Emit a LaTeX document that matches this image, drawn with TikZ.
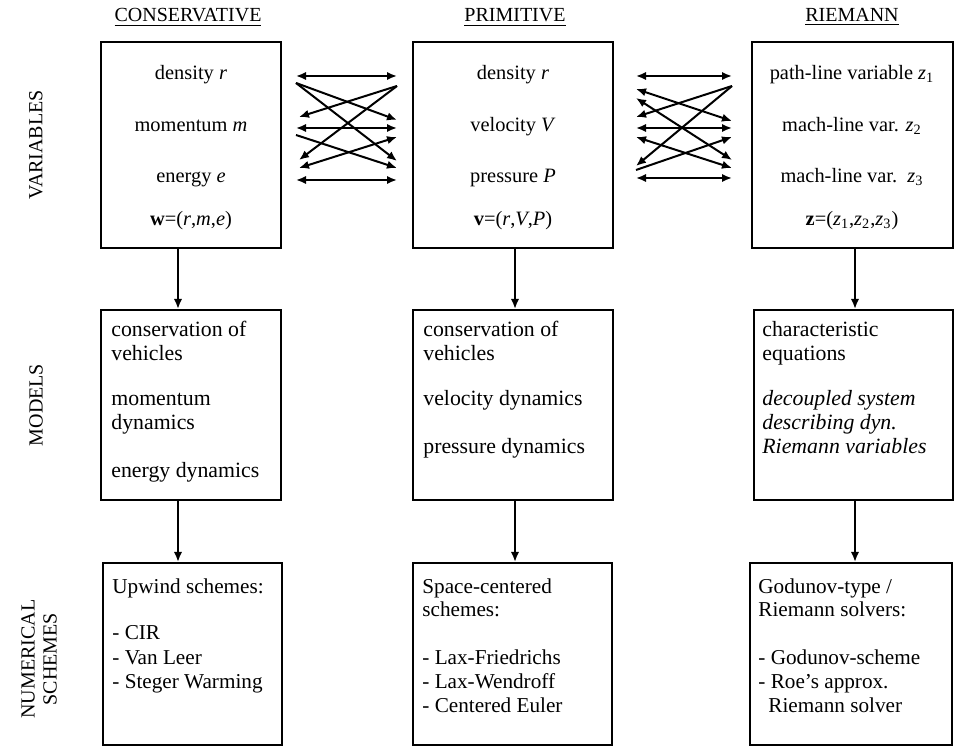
\documentclass[tikz,border=0pt]{standalone}
\usepackage{fontspec}
\setmainfont{Liberation Serif}
\usetikzlibrary{arrows.meta}
\begin{document}
\begin{tikzpicture}[x=0.5pt,y=-0.5pt,
  box/.style={draw,line width=1pt,inner sep=0pt},
  arr/.style={line width=1pt,-{Latex[length=5pt,width=4.2pt]}},
  darr/.style={line width=1pt,{Latex[length=5pt,width=4.2pt]}-{Latex[length=5pt,width=4.2pt]}},
  ctr/.style={anchor=base,inner sep=0pt,font=\fontsize{10.2}{12}\selectfont},
  hdr/.style={anchor=base,inner sep=0pt,font=\fontsize{10}{12}\selectfont},
  lft/.style={anchor=base west,inner sep=0pt,font=\fontsize{10.9}{13}\selectfont},
  sch/.style={anchor=base west,inner sep=0pt,font=\fontsize{10.6}{13}\selectfont},
  side/.style={rotate=90,align=center,inner sep=0pt,font=\fontsize{10}{11}\selectfont}]
\useasboundingbox (0,0) rectangle (959,747);

% headers
\node[hdr] (h1) at (188,22) {\underline{CONSERVATIVE}};
\node[hdr] (h2) at (515,22) {\underline{PRIMITIVE}};
\node[hdr] (h3) at (852,22) {\underline{RIEMANN}};

% side labels
\node[side] (r1) at (36,145) {VARIABLES};
\node[side] (r2) at (36,405) {MODELS};
\node[side] (r3) at (39,659) {NUMERICAL\\SCHEMES};

% boxes
\node[box,minimum width=90pt,minimum height=103pt] (v1) at (191,145) {};
\node[box,minimum width=100pt,minimum height=103pt] (v2) at (513,145) {};
\node[box,minimum width=100.5pt,minimum height=103pt] (v3) at (852.5,145) {};
\node[box,minimum width=90pt,minimum height=95pt] (m1) at (191,405) {};
\node[box,minimum width=100pt,minimum height=95pt] (m2) at (513,405) {};
\node[box,minimum width=99.5pt,minimum height=95pt] (m3) at (853.5,405) {};
\node[box,minimum width=89.5pt,minimum height=91pt] (s1) at (192.5,654) {};
\node[box,minimum width=99.5pt,minimum height=91pt] (s2) at (512.5,654) {};
\node[box,minimum width=101pt,minimum height=91pt] (s3) at (851,654) {};

% variables text
\node[ctr] (v1a) at (191,80) {density \textit{r}};
\node[ctr] (v1b) at (191,132) {momentum \textit{m}};
\node[ctr] (v1c) at (191,183) {energy \textit{e}};
\node[ctr] (v1d) at (191,226) {\textbf{w}=(\textit{r},\textit{m},\textit{e})};
\node[ctr] (v2a) at (513,80) {density \textit{r}};
\node[ctr] (v2b) at (513,132) {velocity \textit{V}};
\node[ctr] (v2c) at (513,183) {pressure \textit{P}};
\node[ctr] (v2d) at (513,226) {\textbf{v}=(\textit{r},\textit{V},\textit{P})};
\node[ctr] (v3a) at (852,80) {path-line variable \textit{z}\textsubscript{1}};
\node[ctr] (v3b) at (852,132) {mach-line var. \textit{z}\textsubscript{2}};
\node[ctr] (v3c) at (852,183) {mach-line var.\ \ \textit{z}\textsubscript{3}};
\node[ctr] (v3d) at (852,226) {\textbf{z}=(\textit{z}\textsubscript{1},\textit{z}\textsubscript{2},\textit{z}\textsubscript{3})};

% models text
\node[lft] (m1a) at (111,337) {conservation of};
\node[lft] (m1b) at (111,361) {vehicles};
\node[lft] (m1c) at (111,406) {momentum};
\node[lft] (m1d) at (111,430) {dynamics};
\node[lft] (m1e) at (111,478) {energy dynamics};
\node[lft] (m2a) at (423,337) {conservation of};
\node[lft] (m2b) at (423,361) {vehicles};
\node[lft] (m2c) at (423,406) {velocity dynamics};
\node[lft] (m2d) at (423,454) {pressure dynamics};
\node[lft] (m3a) at (762,337) {characteristic};
\node[lft] (m3b) at (762,361) {equations};
\node[lft] (m3c) at (762,406) {\textit{decoupled system}};
\node[lft] (m3d) at (762,430) {\textit{describing dyn.}};
\node[lft] (m3e) at (762,454) {\textit{Riemann variables}};

% schemes text
\node[sch] (s1a) at (112,594) {Upwind schemes:};
\node[sch] (s1b) at (112,640) {- CIR};
\node[sch] (s1c) at (112,665) {- Van Leer};
\node[sch] (s1d) at (112,689) {- Steger Warming};
\node[sch] (s2a) at (422,594) {Space-centered};
\node[sch] (s2b) at (422,617) {schemes:};
\node[sch] (s2c) at (422,665) {- Lax-Friedrichs};
\node[sch] (s2d) at (422,689) {- Lax-Wendroff};
\node[sch] (s2e) at (422,713) {- Centered Euler};
\node[sch] (s3a) at (758,594) {Godunov-type /};
\node[sch] (s3b) at (758,617) {Riemann solvers:};
\node[sch] (s3c) at (758,665) {- Godunov-scheme};
\node[sch] (s3d) at (758,689) {- Roe's approx.};
\node[sch] (s3e) at (768,713) {Riemann solver};

% vertical arrows
\coordinate (c1) at (178,0);
\coordinate (c2) at (515,0);
\coordinate (c3) at (855,0);
\draw[arr] (v1.south -| c1) -- (m1.north -| c1);
\draw[arr] (v2.south -| c2) -- (m2.north -| c2);
\draw[arr] (v3.south -| c3) -- (m3.north -| c3);
\draw[arr] (m1.south -| c1) -- (s1.north -| c1);
\draw[arr] (m2.south -| c2) -- (s2.north -| c2);
\draw[arr] (m3.south -| c3) -- (s3.north -| c3);

% left gap crossing arrows
\coordinate (la1) at (296,76);  \coordinate (ra1) at (397,76);
\coordinate (la2) at (296,128); \coordinate (ra2) at (397,128);
\coordinate (la3) at (296,180); \coordinate (ra3) at (397,180);
\draw[darr] (la1) -- (ra1);
\draw[darr] (la2) -- (ra2);
\draw[darr] (la3) -- (ra3);
\coordinate (lp1) at (296,83);  \coordinate (rq1) at (397,120);
\coordinate (rq2) at (397,161); \coordinate (rp1) at (397,86);
\coordinate (lq1) at (299,117); \coordinate (lq2) at (299,160);
\coordinate (lp2) at (296,135); \coordinate (rq3) at (397,168);
\coordinate (lq3) at (299,168); \coordinate (rq4) at (397,137);
\draw[arr] (lp1) -- (rq1);
\draw[arr] (lp1) -- (rq2);
\draw[arr] (rp1) -- (lq1);
\draw[arr] (rp1) -- (lq2);
\draw[arr] (lp2) -- (rq3);
\draw[darr] (lq3) -- (rq4);

% right gap crossing arrows
\coordinate (lb1) at (636,76);  \coordinate (rb1) at (732,76);
\coordinate (lb2) at (636,128); \coordinate (rb2) at (732,128);
\coordinate (lb3) at (636,178); \coordinate (rb3) at (732,178);
\draw[darr] (lb1) -- (rb1);
\draw[darr] (lb2) -- (rb2);
\draw[darr] (lb3) -- (rb3);
\coordinate (e1l) at (636,89);  \coordinate (e1r) at (732,121);
\coordinate (e2l) at (636,98);  \coordinate (e2r) at (732,160);
\coordinate (e3r) at (732,86);  \coordinate (e3l) at (636,117);
\coordinate (e4l) at (636,166);
\coordinate (e5l) at (636,137); \coordinate (e5r) at (732,168);
\coordinate (e6l) at (636,170); \coordinate (e6r) at (732,137);
\draw[darr] (e1l) -- (e1r);
\draw[darr] (e2l) -- (e2r);
\draw[arr] (e3r) -- (e3l);
\draw[arr] (e3r) -- (e4l);
\draw[darr] (e5l) -- (e5r);
\draw[arr] (e6l) -- (e6r);
\end{tikzpicture}
\end{document}
